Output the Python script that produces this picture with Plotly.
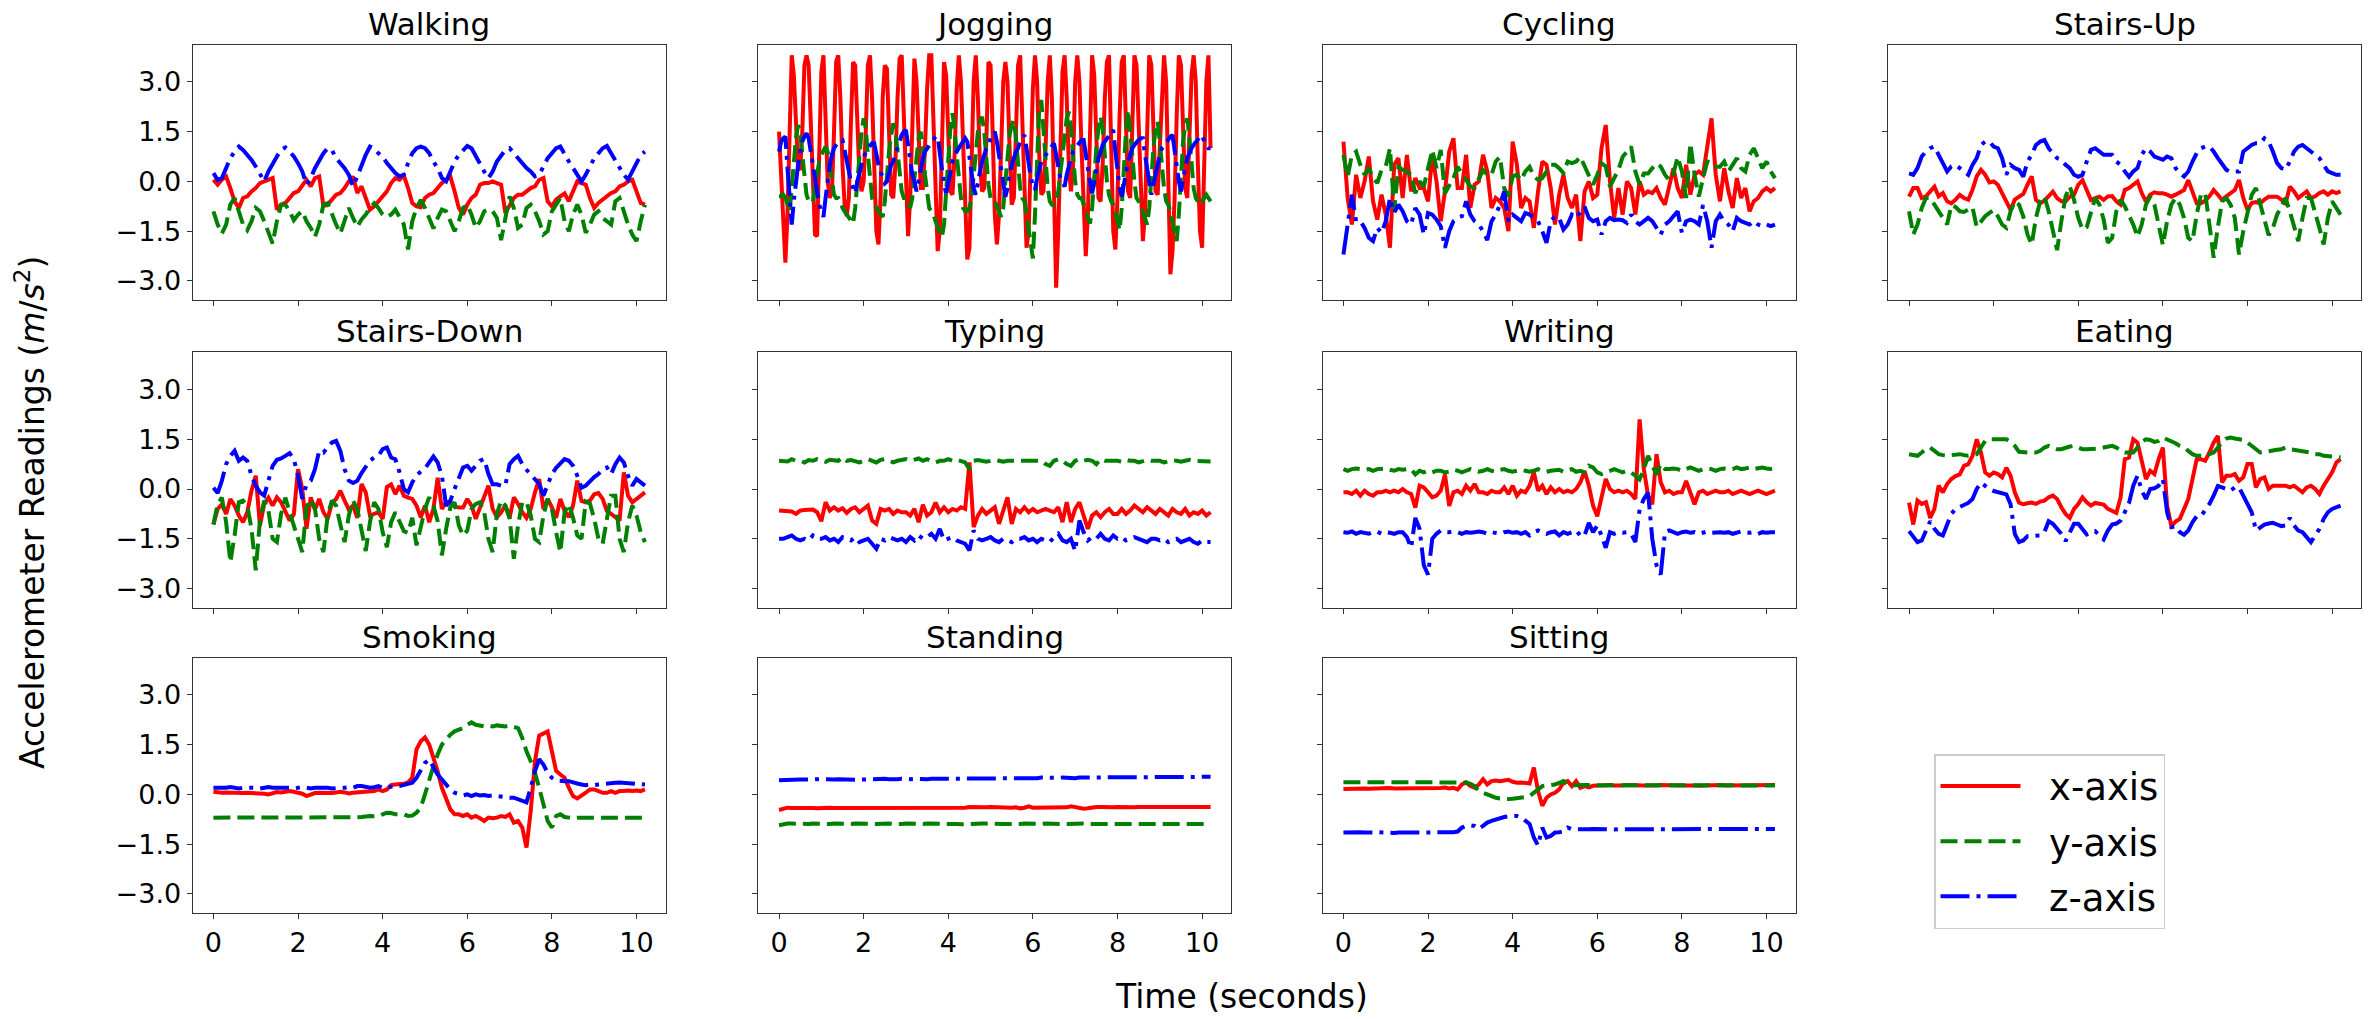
import numpy as np
import plotly.graph_objects as go

# ---------------------------------------------------------------
# Accelerometer readings (m/s^2), x / y / z axes, per activity.
# Most activities are sampled every 0.1 s, jogging every 0.05 s.
# ---------------------------------------------------------------
DT = 0.1
DT_JOG = 0.05

walking_x = [0.05,-0.1,0.05,0.15,-0.2,-0.6,-0.8,-0.5,-0.45,-0.3,
    -0.2,-0.05,0.0,0.05,0.1,-0.85,-0.7,-0.65,-0.5,-0.35,
    -0.3,-0.1,0.05,-0.15,0.1,0.15,-0.75,-0.7,-0.55,-0.4,
    -0.35,-0.2,0.0,0.15,-0.35,-0.15,-0.5,-0.85,-0.75,-0.6,
    -0.45,-0.3,-0.05,0.1,0.05,0.18,-0.2,-0.65,-0.75,-0.78,
    -0.5,-0.4,-0.35,-0.2,-0.05,0.05,0.15,-0.3,-0.8,-1.0,
    -0.7,-0.5,-0.4,-0.1,-0.05,-0.05,0.0,-0.05,-0.1,-0.95,
    -0.7,-0.5,-0.4,-0.4,-0.3,-0.2,-0.15,0.05,0.1,-0.6,
    -0.75,-0.55,-0.45,-0.36,-0.6,-0.3,0.0,-0.05,-0.1,-0.5,
    -0.8,-0.65,-0.55,-0.45,-0.35,-0.3,-0.15,-0.1,0.0,0.05,
    -0.3,-0.65,-0.7]
walking_y = [-0.9,-1.3,-1.57,-1.3,-0.7,-0.5,-0.9,-1.3,-1.47,-1.2,
    -0.8,-0.9,-1.2,-1.5,-1.87,-1.2,-0.7,-0.7,-0.9,-1.17,
    -1.0,-0.9,-1.2,-1.4,-1.67,-1.3,-0.7,-0.66,-1.0,-1.3,
    -1.57,-1.2,-0.8,-1.1,-1.37,-1.15,-1.0,-0.8,-0.66,-0.8,
    -1.0,-1.07,-1.0,-0.85,-1.1,-1.3,-2.05,-1.2,-0.8,-0.56,
    -0.8,-1.1,-1.42,-1.1,-0.85,-0.9,-1.2,-1.5,-1.2,-0.8,
    -0.7,-1.0,-1.4,-1.2,-0.9,-0.85,-0.9,-1.1,-1.77,-1.1,
    -0.45,-0.8,-1.4,-1.3,-0.8,-0.7,-0.9,-1.2,-1.6,-1.5,
    -0.9,-0.7,-0.5,-1.2,-1.5,-1.0,-0.7,-1.0,-1.55,-1.3,
    -1.0,-0.9,-1.1,-1.2,-1.3,-0.6,-0.5,-0.9,-1.3,-1.6,
    -1.8,-1.2,-0.7]
walking_z = [0.25,0.05,0.1,0.4,0.7,0.9,1.05,0.95,0.8,0.65,
    0.45,0.25,0.0,0.3,0.55,0.75,0.95,1.02,0.9,0.75,
    0.55,0.3,-0.1,0.1,0.4,0.65,0.85,1.0,0.95,0.7,
    0.55,0.4,0.2,-0.15,0.15,0.5,0.8,1.05,1.0,0.85,
    0.75,0.55,0.4,0.25,0.15,0.2,0.55,0.85,1.0,1.05,
    1.0,0.85,0.6,0.4,0.1,0.0,0.3,0.6,0.8,0.95,
    1.07,1.0,0.75,0.55,0.3,0.1,0.3,0.6,0.8,0.95,
    1.0,0.85,0.7,0.55,0.4,0.3,0.15,0.2,0.45,0.7,
    0.85,1.0,1.05,0.8,0.6,0.4,0.2,0.0,0.2,0.45,
    0.7,0.85,1.0,1.07,0.85,0.6,0.4,0.2,0.05,0.3,
    0.55,0.8,0.9]

jogging_x = [1.5,0.2,-1.5,-2.45,-1.0,1.8,3.8,3.2,1.5,0.4,
    0.35,1.5,3.5,3.8,3.5,1.5,-0.5,-1.6,-1.65,0.5,
    3.3,3.8,2.0,0.0,-0.5,-0.3,1.5,3.6,3.8,2.5,
    0.5,-0.7,-1.05,-0.5,1.8,3.6,3.5,2.0,0.2,-0.3,
    0.0,1.5,3.5,3.8,2.5,0.5,-1.5,-1.9,-0.5,2.5,
    3.5,3.4,1.5,-0.4,-0.5,0.5,2.5,3.7,3.8,2.0,
    -0.5,-1.65,-0.5,2.0,3.7,3.0,1.0,-0.2,-0.2,1.0,
    2.8,3.8,3.8,2.0,-0.2,-2.1,-1.5,0.8,3.6,3.2,
    1.2,-0.3,-0.4,0.8,2.8,3.8,3.0,1.0,-1.0,-2.35,
    -2.0,0.5,3.0,3.8,2.5,0.5,-0.3,-0.2,1.2,3.6,
    3.5,1.5,-1.0,-1.9,-1.0,1.0,3.0,3.6,3.0,1.0,
    -0.7,-0.5,1.5,3.5,3.8,2.0,-0.5,-2.0,-1.5,0.5,
    2.8,3.8,3.0,0.8,-0.4,-0.3,1.0,3.0,3.8,2.5,
    -0.5,-3.2,-1.5,1.0,3.3,3.8,2.5,0.5,-0.3,0.5,
    3.0,3.8,3.0,1.0,-1.0,-2.25,-1.0,2.0,3.8,3.2,
    1.2,-0.5,-0.6,0.5,2.5,3.6,3.8,1.5,-1.5,-2.05,
    -0.5,2.0,3.6,3.8,2.0,-0.3,-0.5,1.5,3.8,3.5,
    1.5,-0.5,-1.8,-1.0,1.5,3.8,3.5,1.5,-0.3,-0.4,
    1.0,3.0,3.8,3.0,0.5,-2.8,-2.1,-0.5,2.0,3.8,
    3.5,1.5,-0.2,-0.5,1.0,3.2,3.8,3.0,0.5,-1.5,
    -2.0,0.5,3.0,3.8,1.0]
jogging_y = [-0.45,-0.45,-0.4,-0.5,-0.7,-0.9,-0.2,0.6,1.3,1.7,
    1.5,0.8,0.1,-0.4,-0.6,-0.65,-0.6,-0.2,0.3,0.6,
    0.8,0.95,1.05,0.9,0.4,-0.1,-0.4,-0.5,-0.5,-0.6,
    -0.8,-0.9,-1.0,-1.1,-1.2,-1.27,-0.8,0.0,0.8,1.5,
    1.9,1.6,0.8,0.0,-0.5,-0.7,-0.8,-0.9,-1.0,-1.07,
    -0.6,0.2,0.9,1.4,1.75,1.5,0.8,0.2,-0.3,-0.5,
    -0.5,-0.7,-0.8,-0.5,0.2,0.8,1.3,1.5,1.0,0.2,
    -0.4,-0.8,-0.9,-1.0,-1.2,-1.4,-1.55,-1.67,-1.3,-0.3,
    0.8,1.6,2.05,1.6,0.8,0.0,-0.5,-0.8,-0.9,-0.9,
    -0.8,-0.5,0.2,0.9,1.5,1.8,1.95,1.5,0.6,-0.1,
    -0.5,-0.6,-0.6,-0.8,-0.9,-1.07,-0.8,0.0,0.8,1.4,
    1.7,1.85,1.3,0.5,-0.2,-0.5,-0.6,-1.0,-1.5,-2.0,
    -2.32,-1.0,0.8,2.2,2.45,1.6,0.6,-0.2,-0.6,-0.7,
    -0.7,-0.6,-0.3,0.3,0.9,1.5,1.9,2.1,1.6,0.8,
    0.0,-0.4,-0.5,-0.5,-0.7,-0.9,-1.1,-1.27,-0.8,0.2,
    1.0,1.6,1.95,1.6,0.8,0.0,-0.4,-0.6,-0.7,-0.9,
    -1.2,-1.47,-0.8,0.5,1.5,2.15,1.6,0.8,0.0,-0.5,
    -0.6,-0.7,-0.9,-1.1,-1.3,-0.8,0.2,1.0,1.6,1.8,
    1.2,0.4,-0.2,-0.6,-0.7,-0.9,-1.2,-1.5,-1.8,-1.0,
    0.2,1.2,1.7,1.9,1.3,0.5,-0.2,-0.5,-0.6,-0.7,
    -0.6,-0.5,-0.4,-0.5,-0.6]
jogging_z = [0.9,1.2,1.3,1.35,0.4,-0.6,-1.3,-0.6,0.0,0.5,
    0.9,1.2,1.35,1.45,1.3,0.9,0.4,0.0,-0.4,-0.7,
    -0.9,-1.07,-0.5,0.1,0.5,0.8,1.0,1.1,1.2,1.25,
    1.25,0.9,0.6,0.3,0.0,-0.2,-0.36,0.0,0.3,0.5,
    0.7,0.9,1.0,1.1,1.15,1.15,0.8,0.5,0.3,0.1,
    -0.06,0.0,0.3,0.5,0.6,0.8,1.0,1.2,1.4,1.5,
    1.55,1.1,0.6,0.2,0.0,-0.3,0.0,0.4,0.7,0.9,
    1.0,1.1,1.2,1.3,1.35,1.35,0.9,0.3,-0.1,-0.36,
    0.0,0.4,0.6,0.8,0.9,1.0,1.1,1.2,1.3,1.2,
    0.7,0.2,-0.2,-0.4,0.0,0.3,0.6,0.8,1.0,1.1,
    1.3,1.4,1.5,1.2,0.8,0.4,0.0,-0.46,-0.2,0.2,
    0.5,0.7,0.9,1.0,1.2,1.3,1.4,1.0,0.5,0.1,
    -0.1,-0.26,0.1,0.4,0.6,0.7,0.8,0.9,1.0,1.1,
    1.15,0.8,0.4,0.1,0.0,-0.16,0.2,0.5,0.7,0.9,
    1.0,1.1,1.2,1.25,1.25,0.9,0.4,0.0,-0.36,0.0,
    0.4,0.7,0.9,1.1,1.2,1.3,1.4,1.5,1.55,0.9,
    0.3,-0.2,-0.46,-0.1,0.3,0.6,0.8,1.0,1.1,1.2,
    1.25,1.3,1.3,0.8,0.3,0.0,-0.4,-0.1,0.3,0.6,
    0.8,1.0,1.1,1.2,1.3,1.35,1.4,0.9,0.4,0.0,
    -0.3,0.1,0.4,0.7,0.9,1.0,1.1,1.2,1.3,1.35,
    1.4,1.2,1.1,1.0,1.0]

cycling_x = [1.2,-0.5,-1.3,0.2,-0.5,0.0,0.75,-0.6,-1.15,-0.4,
    -1.0,-2.0,0.5,0.7,-0.5,0.8,-0.3,0.1,-0.2,-0.2,
    -0.6,0.8,0.0,-1.2,-0.3,0.9,1.3,-0.2,-0.2,0.8,
    -0.8,-0.1,0.0,0.8,0.3,-0.8,-0.5,-0.6,-0.8,-1.5,
    1.2,0.5,-0.8,-0.5,-0.6,-1.4,-0.3,0.6,0.5,-0.2,
    -1.3,-0.4,0.2,-0.5,-0.8,-0.4,-1.8,-0.3,0.0,-0.5,
    -0.4,1.0,1.7,0.0,-1.1,-0.2,-1.0,0.0,-0.2,-1.0,
    0.0,-0.4,-0.3,-0.35,-0.2,-0.5,-0.7,-0.1,0.4,-0.2,
    -0.5,0.5,-0.4,0.2,0.3,0.2,1.0,1.9,0.2,-0.6,
    0.4,-0.3,-0.8,0.1,-0.5,-0.2,-0.9,-0.6,-0.5,-0.3,
    -0.2,-0.3,-0.2]
cycling_y = [0.8,0.14,0.8,0.9,0.5,0.2,0.4,0.1,-0.05,0.35,
    0.45,1.0,-0.85,0.44,0.35,0.3,0.2,-0.36,0.0,-0.15,
    0.4,0.95,0.4,0.95,-0.36,-0.1,0.1,0.44,0.25,0.05,
    -0.15,-0.2,0.1,0.34,0.2,0.2,0.6,0.74,-0.2,-0.46,
    0.15,0.2,0.04,0.3,0.44,0.15,0.05,0.1,0.3,0.5,
    0.5,0.4,0.25,0.6,0.55,0.6,0.74,0.44,0.2,-0.1,
    0.2,0.54,0.45,-0.16,0.1,0.35,0.74,0.9,1.05,0.3,
    -0.1,0.24,0.24,0.4,0.54,0.45,0.2,0.04,0.24,0.74,
    0.3,-0.5,1.15,0.2,-0.46,0.1,0.6,0.55,0.44,0.44,
    0.6,0.3,0.5,0.7,0.4,0.3,0.8,1.0,0.7,0.4,
    0.6,0.3,0.1]
cycling_z = [-2.2,-1.3,-0.4,-1.2,-1.2,-1.4,-1.7,-1.8,-1.4,-1.55,
    -1.2,-0.5,-0.95,-0.7,-0.9,-1.2,-1.3,-0.8,-1.0,-1.6,
    -0.95,-1.0,-1.15,-1.35,-2.0,-1.5,-1.2,-1.1,-1.05,-0.6,
    -1.0,-1.2,-1.3,-1.5,-1.77,-1.2,-1.0,-0.7,-0.3,-1.2,
    -1.0,-1.1,-1.2,-0.95,-1.0,-1.1,-1.2,-1.5,-1.85,-1.2,
    -1.05,-1.1,-1.45,-1.3,-1.0,-1.1,-0.95,-0.76,-1.1,-1.2,
    -1.15,-1.6,-1.2,-1.1,-1.17,-1.15,-1.17,-1.25,-1.0,-1.2,
    -1.3,-1.2,-1.1,-1.2,-1.4,-1.6,-1.3,-1.2,-1.05,-0.9,
    -1.55,-1.2,-1.15,-1.2,-1.3,-0.71,-1.2,-2.0,-1.2,-1.0,
    -1.2,-1.3,-1.5,-1.1,-1.2,-1.25,-1.3,-1.2,-1.3,-1.35,
    -1.3,-1.35,-1.3]

stairs_up_x = [-0.46,-0.2,-0.2,-0.5,-0.45,-0.3,-0.16,-0.45,-0.35,-0.6,
    -0.66,-0.55,-0.41,-0.5,-0.55,-0.25,0.15,0.35,0.2,-0.03,
    0.0,-0.1,-0.35,-0.6,-0.86,-0.55,-0.45,-0.38,-0.1,0.15,
    -0.56,-0.66,-0.58,-0.45,-0.31,-0.5,-0.6,-0.6,-0.46,-0.4,
    -0.1,0.04,-0.3,-0.56,-0.5,-0.46,-0.56,-0.45,-0.44,-0.6,
    -0.7,-0.26,-0.2,-0.08,0.0,-0.35,-0.61,-0.4,-0.33,-0.36,
    -0.36,-0.4,-0.46,-0.4,-0.33,-0.26,0.04,-0.35,-0.66,-0.66,
    -0.58,-0.45,-0.26,-0.4,-0.56,-0.45,-0.35,-0.26,0.04,-0.5,
    -0.86,-0.65,-0.62,-0.66,-0.55,-0.46,-0.46,-0.46,-0.55,-0.66,
    -0.16,-0.3,-0.5,-0.4,-0.3,-0.5,-0.45,-0.35,-0.3,-0.4,
    -0.3,-0.35,-0.3]
stairs_up_y = [-0.9,-1.6,-1.3,-0.8,-0.5,-0.5,-0.7,-0.9,-1.1,-1.3,
    -0.72,-0.77,-0.9,-0.92,-0.85,-0.78,-1.37,-1.2,-1.05,-0.95,
    -0.86,-1.05,-1.3,-1.4,-0.9,-0.6,-0.7,-1.05,-1.6,-1.9,
    -1.1,-0.6,-0.45,-0.9,-1.5,-2.07,-1.2,-0.46,-0.15,-0.56,
    -1.1,-1.45,-1.38,-0.9,-0.5,-0.7,-1.15,-1.85,-1.7,-0.9,
    -0.55,-0.75,-1.0,-1.3,-1.67,-1.3,-0.7,-0.46,-0.7,-1.3,
    -1.92,-1.2,-0.7,-0.5,-0.7,-1.1,-1.7,-1.8,-1.0,-0.4,
    -0.35,-1.3,-2.3,-1.37,-0.6,-0.5,-0.7,-1.1,-2.2,-1.5,
    -0.9,-0.4,-0.2,-0.7,-1.2,-1.62,-1.4,-1.0,-0.76,-0.5,
    -0.9,-1.4,-1.8,-1.1,-0.5,-0.5,-0.9,-1.4,-1.9,-1.1,
    -0.6,-0.8,-1.0]
stairs_up_z = [0.24,0.2,0.4,0.75,0.9,1.0,1.05,0.8,0.5,0.3,
    0.45,0.5,0.4,0.3,0.2,0.5,0.7,1.1,1.2,1.2,
    1.05,1.0,0.7,0.2,0.5,0.4,0.35,0.14,0.6,0.8,
    1.1,1.2,1.25,1.0,0.85,0.7,0.65,0.5,0.4,0.2,
    0.14,0.2,0.6,0.95,1.0,0.9,0.8,0.8,0.8,0.6,
    0.5,0.3,0.14,0.3,0.4,0.8,1.0,0.9,0.75,0.7,
    0.65,0.75,0.7,0.4,0.25,0.15,0.3,0.6,0.85,1.0,
    1.05,1.05,0.9,0.7,0.5,0.35,0.29,0.29,0.3,0.9,
    1.0,1.1,1.15,1.15,1.3,1.2,0.9,0.55,0.4,0.35,
    0.6,0.9,1.05,1.1,1.0,0.9,0.8,0.7,0.5,0.3,
    0.25,0.2,0.2]

stairs_down_x = [-1.07,-0.6,-0.46,-0.75,-0.3,-0.5,-0.8,-1.0,-0.7,-0.05,
    0.4,-1.1,-0.45,-0.26,-0.5,-0.25,-0.4,-0.7,-0.95,-0.76,
    0.6,0.0,-1.2,-0.25,-0.62,-0.3,-0.7,-0.9,-0.42,-0.3,
    -0.05,-0.35,-0.62,-0.5,-0.87,0.15,-0.1,-0.8,-0.75,-0.7,
    -0.9,0.06,0.14,-0.15,0.1,-0.2,-0.26,-0.3,-0.5,-0.85,
    -0.5,-1.0,-0.6,0.34,-0.6,-0.4,-0.4,-0.52,-0.56,-0.56,
    -0.3,-0.5,-0.9,-0.55,-0.2,0.1,-0.6,-0.85,-0.7,-0.5,
    -0.87,-0.25,-0.45,-0.7,-0.87,-0.6,-0.1,0.3,-0.6,-0.3,
    -0.55,-0.87,-0.3,-0.66,-0.85,-0.5,0.25,-0.36,-0.4,-0.35,
    -0.16,-0.12,-0.3,-0.66,-0.75,-0.85,-0.95,0.5,-0.2,-0.4,
    -0.3,-0.2,-0.1]
stairs_down_y = [-1.07,-0.45,-0.26,-1.0,-2.2,-1.4,-0.4,-0.35,-0.5,-1.2,
    -2.45,-0.95,-0.35,-0.65,-1.5,-1.6,-0.75,-0.26,-0.7,-1.1,
    -1.5,-1.9,-0.55,-0.3,-0.6,-1.5,-1.9,-0.8,-0.35,-0.5,
    -1.07,-1.6,-0.8,-0.35,-0.6,-1.2,-1.87,-1.0,-0.4,-0.6,
    -1.3,-1.75,-1.0,-0.7,-1.0,-1.27,-1.32,-0.87,-1.7,-1.2,
    -0.6,-0.25,-0.5,-0.97,-2.0,-1.2,-0.55,-0.4,-1.1,-1.4,
    -1.25,-0.6,-0.45,-0.4,-0.7,-1.5,-1.9,-0.75,-0.35,-0.5,
    -0.87,-2.1,-1.1,-0.4,-0.4,-0.8,-1.5,-1.6,-0.8,-0.3,
    -0.6,-1.3,-1.9,-0.7,-0.45,-0.87,-1.4,-1.5,-0.38,-0.44,
    -0.9,-1.5,-1.65,-0.9,-0.2,-0.2,-1.5,-1.9,-1.0,-0.5,
    -0.8,-1.3,-1.6]
stairs_down_z = [0.04,-0.12,0.25,0.75,1.0,1.15,0.85,0.95,0.85,0.4,
    0.1,-0.1,-0.2,0.3,0.7,0.88,0.92,1.0,1.08,0.9,
    0.4,-0.3,0.14,0.25,0.6,1.15,1.1,1.25,1.4,1.45,
    1.15,0.6,0.25,0.18,0.25,0.48,0.68,0.85,0.95,1.0,
    1.2,1.25,0.95,0.9,0.5,0.0,-0.1,0.2,0.42,0.54,
    0.62,0.8,0.98,0.8,0.4,-0.5,-0.35,0.0,0.3,0.65,
    0.7,0.55,0.7,0.85,0.9,0.45,0.14,0.14,0.1,0.1,
    0.75,0.9,1.0,0.75,0.58,0.45,0.32,0.15,-0.2,0.15,
    0.45,0.64,0.78,0.9,0.85,0.7,0.4,0.04,0.1,0.25,
    0.36,0.45,0.6,0.65,0.45,0.75,0.95,0.8,0.4,0.1,
    0.3,0.2,0.1]

typing_x = [-0.65,-0.65,-0.65,-0.68,-0.75,-0.65,-0.63,-0.62,-0.62,-0.7,
    -0.97,-0.4,-0.65,-0.55,-0.65,-0.58,-0.72,-0.6,-0.55,-0.7,
    -0.6,-0.5,-0.95,-1.05,-0.6,-0.65,-0.6,-0.75,-0.65,-0.7,
    -0.7,-0.8,-0.6,-1.0,-0.47,-0.8,-0.7,-0.41,-0.7,-0.55,
    -0.7,-0.6,-0.65,-0.55,-0.6,0.8,-1.15,-0.8,-0.6,-0.75,
    -0.65,-0.55,-1.05,-0.6,-0.25,-1.05,-0.6,-0.7,-0.55,-0.7,
    -0.6,-0.7,-0.65,-0.6,-0.65,-0.7,-0.55,-1.0,-0.4,-1.0,
    -0.6,-0.4,-0.8,-1.2,-0.8,-0.7,-0.85,-0.7,-0.6,-0.75,
    -0.75,-0.6,-0.75,-0.65,-0.5,-0.6,-0.7,-0.55,-0.65,-0.75,
    -0.6,-0.7,-0.8,-0.6,-0.7,-0.75,-0.6,-0.8,-0.7,-0.75,
    -0.65,-0.8,-0.7]
typing_y = [0.85,0.85,0.83,0.9,0.85,0.85,0.8,0.87,0.85,0.9,
    0.85,0.82,0.88,0.85,0.85,0.95,0.85,0.87,0.85,0.8,
    0.85,0.9,0.85,0.8,0.88,0.9,0.85,0.8,0.85,0.87,
    0.9,0.85,0.88,0.92,0.85,0.9,0.85,0.8,0.85,0.85,
    0.9,0.85,0.88,0.85,0.8,0.6,0.85,0.87,0.85,0.82,
    0.85,0.88,0.85,0.82,0.85,0.85,0.87,0.85,0.85,0.85,
    0.85,0.87,0.85,0.75,0.7,0.85,0.9,0.85,0.75,0.7,
    0.85,0.9,0.85,0.88,0.85,0.75,0.9,0.85,0.85,0.87,
    0.85,0.82,0.88,0.85,0.85,0.8,0.85,0.88,0.85,0.85,
    0.85,0.8,0.85,0.87,0.85,0.82,0.85,0.88,0.85,0.85,
    0.82,0.85,0.83]
typing_z = [-1.5,-1.5,-1.45,-1.4,-1.5,-1.55,-1.5,-1.55,-1.4,-1.5,
    -1.5,-1.45,-1.55,-1.5,-1.6,-1.45,-1.5,-1.55,-1.45,-1.6,
    -1.55,-1.5,-1.65,-1.8,-1.5,-1.55,-1.45,-1.5,-1.55,-1.5,
    -1.6,-1.45,-1.55,-1.4,-1.5,-1.45,-1.35,-1.5,-1.2,-1.55,
    -1.5,-1.45,-1.55,-1.6,-1.65,-1.85,-1.25,-1.5,-1.55,-1.5,
    -1.45,-1.55,-1.6,-1.5,-1.55,-1.6,-1.5,-1.5,-1.45,-1.55,
    -1.5,-1.6,-1.5,-1.55,-1.6,-1.45,-1.35,-1.55,-1.6,-1.5,
    -1.87,-0.95,-1.3,-1.55,-1.45,-1.5,-1.35,-1.5,-1.55,-1.4,
    -1.5,-1.45,-1.55,-1.5,-1.45,-1.5,-1.55,-1.6,-1.5,-1.5,
    -1.55,-1.5,-1.6,-1.55,-1.5,-1.6,-1.55,-1.5,-1.6,-1.65,
    -1.55,-1.6,-1.6]

writing_x = [-0.1,-0.1,-0.15,-0.05,-0.2,-0.05,-0.15,-0.2,-0.1,-0.1,
    -0.05,-0.1,-0.05,-0.1,0.0,-0.1,-0.15,-0.56,0.1,0.05,
    -0.1,-0.25,-0.2,-0.05,0.44,-0.51,-0.1,-0.05,-0.15,0.1,
    -0.05,0.15,-0.1,-0.1,-0.15,-0.05,-0.1,-0.1,0.05,-0.15,
    0.1,-0.2,-0.05,-0.1,0.1,0.5,-0.05,0.1,-0.15,0.05,
    -0.1,0.0,-0.1,-0.05,-0.1,0.0,0.2,0.54,0.1,-0.5,
    -0.82,-0.2,0.3,0.0,-0.1,-0.05,-0.1,-0.05,-0.15,-0.3,
    2.1,0.6,-0.2,-0.46,1.05,0.2,-0.1,-0.05,-0.15,-0.1,
    -0.1,0.24,-0.1,-0.46,-0.1,-0.05,-0.15,-0.1,-0.05,-0.1,
    -0.1,-0.05,-0.15,-0.1,-0.05,-0.1,-0.15,-0.1,-0.05,-0.1,
    -0.15,-0.1,-0.05]
writing_y = [0.6,0.55,0.6,0.62,0.6,0.58,0.6,0.55,0.6,0.6,
    0.62,0.58,0.55,0.6,0.58,0.6,0.6,0.44,0.55,0.5,
    0.55,0.5,0.55,0.55,0.5,0.52,0.58,0.55,0.5,0.55,
    0.6,0.55,0.52,0.55,0.6,0.55,0.52,0.58,0.6,0.55,
    0.52,0.55,0.58,0.55,0.52,0.55,0.6,0.55,0.52,0.55,
    0.55,0.58,0.52,0.55,0.6,0.52,0.55,0.5,0.7,0.65,
    0.5,0.45,0.5,0.55,0.6,0.55,0.5,0.55,0.5,0.4,
    0.29,0.6,1.0,0.7,0.44,0.75,0.6,0.6,0.62,0.6,
    0.55,0.6,0.65,0.6,0.55,0.6,0.62,0.6,0.55,0.6,
    0.62,0.6,0.6,0.65,0.6,0.62,0.65,0.6,0.62,0.65,
    0.62,0.6,0.62]
writing_z = [-1.3,-1.32,-1.28,-1.35,-1.3,-1.32,-1.35,-1.3,-1.28,-1.35,
    -1.3,-1.32,-1.35,-1.3,-1.3,-1.45,-1.77,-0.87,-1.2,-2.3,
    -2.58,-1.5,-1.35,-1.25,-1.3,-1.3,-1.28,-1.3,-1.35,-1.3,
    -1.32,-1.3,-1.28,-1.3,-1.35,-1.3,-1.32,-1.35,-1.3,-1.28,
    -1.32,-1.3,-1.35,-1.3,-1.4,-1.3,-1.25,-1.3,-1.35,-1.3,
    -1.28,-1.4,-1.3,-1.35,-1.3,-1.4,-1.3,-1.4,-1.02,-1.3,
    -1.1,-1.4,-1.77,-1.3,-1.35,-1.3,-1.32,-1.3,-1.35,-1.6,
    -0.61,-0.3,-0.11,-1.5,-2.3,-2.58,-1.3,-1.25,-1.3,-1.35,
    -1.3,-1.28,-1.32,-1.3,-1.35,-1.3,-1.28,-1.32,-1.3,-1.3,
    -1.32,-1.3,-1.35,-1.3,-1.28,-1.3,-1.32,-1.3,-1.35,-1.3,
    -1.32,-1.3,-1.3]

eating_x = [-0.41,-1.07,-0.35,-0.45,-0.4,-0.87,-0.6,0.1,-0.1,0.15,
    0.3,0.39,0.44,0.7,0.75,1.0,1.5,1.1,0.5,0.4,
    0.5,0.45,0.35,0.64,0.4,-0.1,-0.41,-0.46,-0.43,-0.41,
    -0.45,-0.38,-0.35,-0.25,-0.2,-0.3,-0.55,-0.75,-0.87,-0.6,
    -0.45,-0.25,-0.4,-0.5,-0.42,-0.45,-0.47,-0.6,-0.66,-0.72,
    -0.26,0.9,0.95,1.5,1.4,0.8,0.3,0.55,0.45,0.9,
    1.25,-0.5,-1.12,-0.98,-0.9,-0.6,-0.3,0.3,0.9,0.9,
    0.85,1.1,1.4,1.6,0.2,0.4,0.4,0.45,0.25,0.35,
    0.75,0.75,0.05,0.3,0.35,0.0,0.1,0.1,0.1,0.1,
    0.05,0.1,0.0,-0.1,0.05,0.1,0.0,-0.15,0.1,0.3,
    0.5,0.8,0.9]
eating_y = [1.05,1.02,1.0,1.1,1.2,1.25,1.15,1.05,1.02,1.0,
    1.02,1.05,1.05,1.02,1.0,1.02,1.05,1.25,1.45,1.5,
    1.5,1.52,1.5,1.5,1.42,1.3,1.12,1.1,1.1,1.1,
    1.1,1.15,1.25,1.3,1.25,1.2,1.2,1.25,1.28,1.3,
    1.25,1.2,1.2,1.2,1.2,1.22,1.25,1.28,1.3,1.25,
    1.15,1.1,1.1,1.1,1.25,1.42,1.5,1.48,1.42,1.45,
    1.55,1.5,1.42,1.38,1.3,1.25,1.15,1.05,1.0,1.0,
    1.0,1.05,1.1,1.25,1.42,1.52,1.55,1.52,1.5,1.48,
    1.4,1.3,1.2,1.1,1.12,1.15,1.15,1.18,1.2,1.25,
    1.2,1.18,1.15,1.12,1.1,1.1,1.05,1.05,1.0,1.0,
    0.98,0.96,0.95]
eating_z = [-1.27,-1.45,-1.6,-1.55,-1.25,-0.97,-1.2,-1.35,-1.4,-1.1,
    -0.75,-0.6,-0.53,-0.46,-0.42,-0.3,0.0,0.19,0.08,0.0,
    -0.06,-0.09,-0.12,-0.16,-0.46,-1.35,-1.6,-1.55,-1.42,-1.42,
    -1.42,-1.4,-1.3,-0.97,-1.05,-1.2,-1.35,-1.57,-1.3,-1.05,
    -1.05,-1.2,-1.37,-1.3,-1.27,-1.4,-1.52,-1.25,-1.07,-1.04,
    -0.95,-0.7,-0.42,0.1,0.4,-0.05,-0.3,0.0,0.02,0.1,
    0.3,-0.7,-1.15,-1.12,-1.3,-1.38,-1.25,-1.0,-0.82,-0.82,
    -0.65,-0.45,-0.2,0.09,0.05,0.0,-0.05,0.05,0.05,-0.2,
    -0.45,-0.7,-1.25,-1.15,-1.07,-1.04,-1.02,-1.07,-1.12,-1.1,
    -0.87,-1.1,-1.25,-1.3,-1.45,-1.6,-1.4,-1.2,-0.9,-0.7,
    -0.6,-0.55,-0.5]

smoking_x = [0.08,0.05,0.05,0.06,0.05,0.06,0.05,0.04,0.05,0.05,
    0.03,0.05,0.02,0.0,0.04,0.07,0.06,0.08,0.1,0.08,
    0.05,0.02,-0.05,0.0,0.04,0.05,0.04,0.05,0.04,0.06,
    0.08,0.06,0.03,0.05,0.06,0.07,0.1,0.12,0.1,0.15,
    0.1,0.15,0.28,0.3,0.3,0.32,0.36,0.5,1.36,1.6,
    1.72,1.5,1.1,0.7,0.2,-0.1,-0.45,-0.6,-0.6,-0.65,
    -0.6,-0.7,-0.65,-0.72,-0.8,-0.7,-0.72,-0.7,-0.65,-0.68,
    -0.6,-0.85,-0.8,-1.0,-1.6,-0.5,1.0,1.77,1.85,1.9,
    1.3,0.71,0.6,0.5,0.2,-0.05,-0.12,-0.05,0.05,0.15,
    0.15,0.1,0.05,0.05,0.1,0.05,0.1,0.1,0.12,0.1,
    0.12,0.1,0.15]
smoking_y = [-0.7,-0.7,-0.7,-0.72,-0.7,-0.7,-0.71,-0.7,-0.7,-0.72,
    -0.7,-0.7,-0.7,-0.71,-0.7,-0.7,-0.72,-0.7,-0.7,-0.7,
    -0.71,-0.72,-0.7,-0.7,-0.7,-0.7,-0.71,-0.7,-0.7,-0.72,
    -0.7,-0.7,-0.7,-0.7,-0.69,-0.68,-0.66,-0.65,-0.66,-0.65,
    -0.6,-0.55,-0.56,-0.6,-0.6,-0.6,-0.65,-0.64,-0.55,-0.4,
    0.0,0.45,0.85,1.2,1.5,1.65,1.8,1.9,1.95,2.0,
    2.1,2.17,2.1,2.07,2.05,2.07,2.05,2.08,2.05,2.05,
    2.07,2.05,2.0,1.7,1.3,1.0,0.65,0.2,-0.3,-0.8,
    -1.0,-0.65,-0.6,-0.68,-0.7,-0.72,-0.7,-0.7,-0.69,-0.7,
    -0.72,-0.7,-0.7,-0.7,-0.71,-0.7,-0.7,-0.7,-0.72,-0.7,
    -0.7,-0.71,-0.7]
smoking_z = [0.2,0.2,0.18,0.2,0.22,0.2,0.18,0.2,0.2,0.22,
    0.2,0.18,0.2,0.22,0.2,0.2,0.2,0.22,0.2,0.18,
    0.2,0.22,0.2,0.18,0.2,0.2,0.22,0.2,0.18,0.2,
    0.2,0.2,0.22,0.2,0.25,0.25,0.22,0.2,0.22,0.25,
    0.2,0.22,0.25,0.25,0.25,0.28,0.3,0.35,0.5,0.7,
    0.95,1.05,0.8,0.6,0.45,0.3,0.15,0.05,0.0,-0.03,
    0.0,-0.05,0.0,-0.03,-0.02,-0.05,-0.03,-0.05,-0.07,-0.08,
    -0.1,-0.1,-0.15,-0.18,-0.24,0.2,0.7,1.06,0.9,0.65,
    0.5,0.42,0.4,0.4,0.4,0.35,0.33,0.3,0.28,0.3,
    0.28,0.3,0.32,0.33,0.35,0.35,0.36,0.35,0.33,0.32,
    0.33,0.32,0.3]

standing_x = [-0.47,-0.42,-0.4,-0.41,-0.42,-0.41,-0.41,-0.4,-0.41,-0.42,
    -0.41,-0.41,-0.4,-0.41,-0.41,-0.42,-0.41,-0.4,-0.39,-0.42,
    -0.4,-0.4,-0.41,-0.4,-0.4,-0.41,-0.4,-0.41,-0.4,-0.4,
    -0.41,-0.4,-0.4,-0.41,-0.4,-0.4,-0.4,-0.41,-0.4,-0.39,
    -0.4,-0.41,-0.4,-0.39,-0.4,-0.38,-0.39,-0.4,-0.4,-0.39,
    -0.38,-0.39,-0.4,-0.39,-0.39,-0.4,-0.39,-0.42,-0.4,-0.36,
    -0.4,-0.4,-0.39,-0.4,-0.39,-0.4,-0.39,-0.38,-0.39,-0.36,
    -0.39,-0.4,-0.43,-0.42,-0.39,-0.38,-0.38,-0.39,-0.38,-0.39,
    -0.38,-0.39,-0.4,-0.38,-0.39,-0.38,-0.38,-0.37,-0.39,-0.38,
    -0.39,-0.38,-0.38,-0.39,-0.37,-0.38,-0.39,-0.38,-0.38,-0.37,
    -0.38,-0.38,-0.38]
standing_y = [-0.93,-0.89,-0.88,-0.88,-0.89,-0.88,-0.89,-0.89,-0.88,-0.89,
    -0.88,-0.89,-0.89,-0.88,-0.89,-0.89,-0.88,-0.89,-0.88,-0.89,
    -0.88,-0.89,-0.89,-0.89,-0.88,-0.89,-0.88,-0.89,-0.9,-0.89,
    -0.88,-0.89,-0.89,-0.88,-0.89,-0.88,-0.89,-0.89,-0.88,-0.89,
    -0.89,-0.88,-0.89,-0.9,-0.89,-0.88,-0.89,-0.89,-0.88,-0.88,
    -0.89,-0.89,-0.88,-0.89,-0.89,-0.9,-0.89,-0.89,-0.88,-0.89,
    -0.89,-0.9,-0.89,-0.88,-0.89,-0.89,-0.88,-0.89,-0.89,-0.88,
    -0.89,-0.89,-0.88,-0.89,-0.89,-0.89,-0.88,-0.89,-0.89,-0.88,
    -0.89,-0.89,-0.88,-0.89,-0.89,-0.9,-0.89,-0.89,-0.88,-0.89,
    -0.89,-0.88,-0.89,-0.89,-0.88,-0.89,-0.9,-0.89,-0.89,-0.88,
    -0.89,-0.89,-0.89]
standing_z = [0.43,0.44,0.45,0.45,0.44,0.45,0.45,0.44,0.45,0.46,
    0.45,0.44,0.46,0.45,0.46,0.45,0.45,0.46,0.45,0.44,
    0.45,0.46,0.45,0.46,0.46,0.47,0.46,0.45,0.46,0.47,
    0.46,0.46,0.47,0.46,0.47,0.46,0.47,0.47,0.48,0.47,
    0.48,0.47,0.48,0.48,0.47,0.48,0.49,0.48,0.48,0.49,
    0.48,0.47,0.49,0.49,0.5,0.49,0.49,0.48,0.5,0.5,
    0.5,0.49,0.51,0.5,0.5,0.49,0.5,0.51,0.5,0.5,
    0.49,0.51,0.51,0.5,0.52,0.51,0.5,0.51,0.52,0.52,
    0.52,0.51,0.52,0.52,0.53,0.52,0.52,0.52,0.53,0.52,
    0.53,0.52,0.52,0.53,0.53,0.52,0.53,0.53,0.52,0.53,
    0.53,0.53,0.53]

sitting_x = [0.16,0.17,0.18,0.17,0.18,0.18,0.17,0.18,0.19,0.18,
    0.18,0.19,0.18,0.18,0.17,0.18,0.19,0.18,0.18,0.17,
    0.18,0.19,0.2,0.19,0.21,0.18,0.2,0.15,0.3,0.36,
    0.25,0.2,0.3,0.46,0.3,0.4,0.42,0.4,0.42,0.44,
    0.38,0.35,0.36,0.35,0.33,0.81,0.1,-0.34,-0.1,0.0,
    0.05,0.15,0.36,0.4,0.25,0.4,0.2,0.25,0.21,0.26,
    0.27,0.26,0.27,0.28,0.27,0.26,0.27,0.28,0.27,0.27,
    0.28,0.27,0.27,0.26,0.27,0.28,0.27,0.27,0.28,0.27,
    0.27,0.28,0.27,0.27,0.26,0.27,0.28,0.27,0.27,0.28,
    0.27,0.27,0.28,0.27,0.27,0.27,0.28,0.27,0.27,0.28,
    0.27,0.27,0.28]
sitting_y = [0.37,0.37,0.36,0.37,0.37,0.37,0.36,0.37,0.37,0.37,
    0.36,0.37,0.37,0.37,0.36,0.37,0.37,0.36,0.37,0.37,
    0.37,0.36,0.37,0.37,0.37,0.36,0.37,0.37,0.37,0.36,
    0.32,0.25,0.1,0.05,0.0,-0.06,-0.1,-0.12,-0.14,-0.14,
    -0.13,-0.12,-0.1,-0.08,-0.05,0.05,0.15,0.25,0.27,0.28,
    0.3,0.35,0.4,0.27,0.28,0.28,0.27,0.28,0.28,0.27,
    0.28,0.28,0.27,0.28,0.28,0.28,0.27,0.28,0.28,0.28,
    0.27,0.28,0.28,0.28,0.27,0.28,0.28,0.28,0.27,0.28,
    0.28,0.28,0.27,0.28,0.28,0.28,0.27,0.28,0.28,0.28,
    0.27,0.28,0.28,0.28,0.27,0.28,0.28,0.28,0.27,0.28,
    0.28,0.28,0.27]
sitting_z = [-1.15,-1.14,-1.15,-1.15,-1.14,-1.15,-1.16,-1.15,-1.14,-1.15,
    -1.15,-1.14,-1.16,-1.15,-1.15,-1.14,-1.15,-1.15,-1.16,-1.15,
    -1.14,-1.15,-1.15,-1.14,-1.15,-1.15,-1.14,-1.12,-1.0,-0.95,
    -0.93,-0.95,-1.04,-0.95,-0.85,-0.8,-0.75,-0.7,-0.68,-0.66,
    -0.64,-0.65,-0.7,-0.8,-0.89,-1.3,-1.54,-1.0,-1.3,-1.25,
    -1.15,-1.14,-1.12,-1.0,-1.05,-1.05,-1.06,-1.05,-1.05,-1.04,
    -1.05,-1.05,-1.04,-1.05,-1.06,-1.05,-1.05,-1.04,-1.05,-1.05,
    -1.05,-1.04,-1.05,-1.05,-1.06,-1.05,-1.05,-1.04,-1.05,-1.05,
    -1.04,-1.05,-1.05,-1.06,-1.05,-1.05,-1.04,-1.05,-1.05,-1.05,
    -1.05,-1.04,-1.05,-1.05,-1.05,-1.04,-1.05,-1.05,-1.06,-1.05,
    -1.05,-1.05,-1.04]

activities = ["Walking", "Jogging", "Cycling", "Stairs-Up",
              "Stairs-Down", "Typing", "Writing", "Eating",
              "Smoking", "Standing", "Sitting"]
readings = {
    "Walking": (walking_x, walking_y, walking_z, DT),
    "Jogging": (jogging_x, jogging_y, jogging_z, DT_JOG),
    "Cycling": (cycling_x, cycling_y, cycling_z, DT),
    "Stairs-Up": (stairs_up_x, stairs_up_y, stairs_up_z, DT),
    "Stairs-Down": (stairs_down_x, stairs_down_y, stairs_down_z, DT),
    "Typing": (typing_x, typing_y, typing_z, DT),
    "Writing": (writing_x, writing_y, writing_z, DT),
    "Eating": (eating_x, eating_y, eating_z, DT),
    "Smoking": (smoking_x, smoking_y, smoking_z, DT),
    "Standing": (standing_x, standing_y, standing_z, DT),
    "Sitting": (sitting_x, sitting_y, sitting_z, DT),
}
axis_names = ["x-axis", "y-axis", "z-axis"]
y_ticks = [-3.0, -1.5, 0.0, 1.5, 3.0]
x_ticks = [0, 2, 4, 6, 8, 10]

# ---- styling / layout -------------------------------------------------
W, H = 2377, 1019
FONT = "DejaVu Sans"
line_styles = [
    dict(color="#ff0000", width=4, dash="solid"),
    dict(color="#008000", width=4, dash="17px,7px"),
    dict(color="#0000ff", width=4, dash="29px,7px,4px,7px"),
]
col_left = [192.7, 758.3, 1322.7, 1888.3]
row_top = [44.7, 352.3, 657.7]
panel_w, panel_h = 473.0, 255.5
x_range = [-0.49, 10.69]
y_range = [-3.58, 4.12]
LEGEND_PAD = "\u00a0\u00a0"  # gap between legend sample line and label

fig = go.Figure()
layout = {}
annotations = []

for i, name in enumerate(activities):
    r, c = divmod(i, 4)
    n = i + 1
    sx = "" if n == 1 else str(n)
    xs, ys, zs, step = readings[name]
    for k, vals in enumerate((xs, ys, zs)):
        t = np.arange(len(vals)) * step
        fig.add_trace(go.Scatter(
            x=t, y=vals, mode="lines", name=LEGEND_PAD + axis_names[k],
            line=line_styles[k], xaxis="x" + sx, yaxis="y" + sx,
            showlegend=(i == 0), legendgroup=axis_names[k],
            hoverinfo="skip",
        ))

    x0 = col_left[c] / W
    x1 = (col_left[c] + panel_w) / W
    y1 = 1 - row_top[r] / H
    y0 = 1 - (row_top[r] + panel_h) / H
    common = dict(showline=True, linecolor="#333333", linewidth=1.3,
                  mirror=True, ticks="outside", ticklen=5, tickwidth=1.3,
                  tickcolor="#333333", showgrid=False, zeroline=False,
                  tickfont=dict(family=FONT, size=27, color="black"))
    layout["xaxis" + sx] = dict(domain=[x0, x1], anchor="y" + sx,
                                range=x_range, tickvals=x_ticks,
                                showticklabels=(r == 2), **common)
    layout["yaxis" + sx] = dict(domain=[y0, y1], anchor="x" + sx,
                                range=y_range, tickvals=y_ticks,
                                tickformat=".1f",
                                showticklabels=(c == 0), **common)
    annotations.append(dict(
        text=name, x=(x0 + x1) / 2, y=y1, xref="paper", yref="paper",
        xanchor="center", yanchor="bottom", yshift=1, showarrow=False,
        font=dict(family=FONT, size=31, color="black"),
    ))

annotations.append(dict(
    text="Time (seconds)", x=1241 / W, y=1 - 996 / H, xref="paper",
    yref="paper", xanchor="center", yanchor="middle", showarrow=False,
    font=dict(family=FONT, size=33, color="black"),
))
annotations.append(dict(
    text="Accelerometer Readings (<i>m</i>/<i>s</i><sup>2</sup>)",
    x=30 / W, y=1 - 513 / H, xref="paper", yref="paper",
    xanchor="center", yanchor="middle", textangle=-90, showarrow=False,
    font=dict(family=FONT, size=33, color="black"),
))

fig.update_layout(
    width=W, height=H,
    margin=dict(l=0, r=0, t=0, b=0),
    paper_bgcolor="white", plot_bgcolor="white",
    font=dict(family=FONT, color="black"),
    annotations=annotations,
    legend=dict(x=1934 / W, y=1 - 754 / H, xanchor="left", yanchor="top",
                font=dict(family=FONT, size=37, color="black"),
                bgcolor="white", bordercolor="#cccccc", borderwidth=1.5,
                itemwidth=80, tracegroupgap=4),
    **layout,
)

fig.write_html("out.html")
